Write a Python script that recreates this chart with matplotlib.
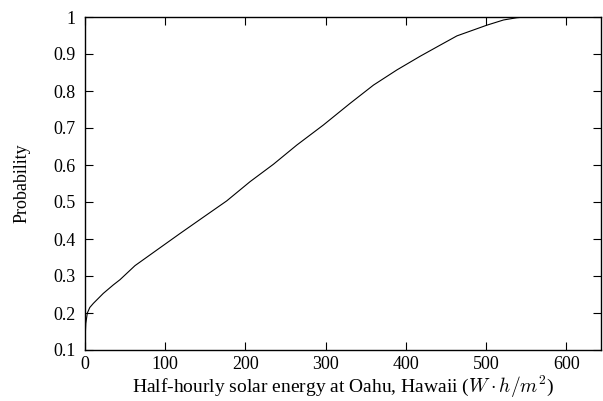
import matplotlib
matplotlib.use("Agg")
import matplotlib.pyplot as plt

energy = [0, 0.3, 1, 2.9, 6, 10.4, 22.8, 35.3, 43.6, 62.3, 89.4, 118.5, 147.5,
          176.6, 205.7, 234.8, 264, 297, 330, 359.5, 388.7, 417.7, 442.6,
          463.5, 500.9, 521.6, 538, 548]
prob = [0.1, 0.14, 0.172, 0.2, 0.215, 0.226, 0.253, 0.276, 0.29, 0.328, 0.37,
        0.415, 0.459, 0.503, 0.555, 0.602, 0.654, 0.708, 0.766, 0.816, 0.857,
        0.894, 0.924, 0.949, 0.978, 0.992, 0.998, 1.0]

xticks = [0, 100, 200, 300, 400, 500, 600]
yticks = [0.1, 0.2, 0.3, 0.4, 0.5, 0.6, 0.7, 0.8, 0.9, 1]
ylabels = ["0.1", "0.2", "0.3", "0.4", "0.5", "0.6", "0.7", "0.8", "0.9", "1"]

plt.rcParams['font.family'] = ['Liberation Serif', 'DejaVu Serif']
plt.rcParams['mathtext.fontset'] = 'cm'
plt.rcParams['font.size'] = 13

fig = plt.figure(figsize=(6.03, 4.01), dpi=100)
ax = fig.add_axes([85 / 603, 51 / 401, 516 / 603, 333 / 401])

ax.plot(energy, prob, color='black', lw=0.8)

ax.set_xlim(0, 643)
ax.set_ylim(0.1, 1)
ax.set_xticks(xticks)
ax.set_yticks(yticks)
ax.set_yticklabels(ylabels)
ax.tick_params(direction='in', length=6, width=0.8, top=True, right=True)
ax.tick_params(axis='x', pad=4)
ax.tick_params(axis='y', pad=7)
for s in ax.spines.values():
    s.set_linewidth(1.0)

ax.set_xlabel(r"Half-hourly solar energy at Oahu, Hawaii ($W \cdot h/m^2$)",
              fontsize=14, labelpad=1)
ax.set_ylabel("Probability", labelpad=16)

fig.savefig("out.png", dpi=100)
